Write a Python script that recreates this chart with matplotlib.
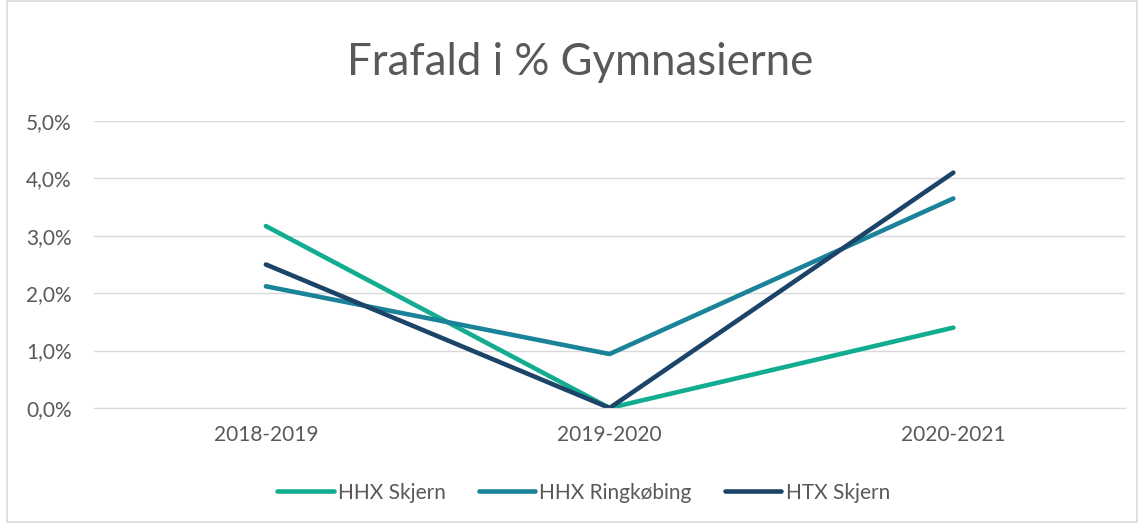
import numpy as np
import matplotlib
matplotlib.use("Agg")
import matplotlib.pyplot as plt
from matplotlib.patches import Rectangle
from matplotlib.ticker import FuncFormatter

plt.rcParams['font.family'] = ['Lato', 'DejaVu Sans']

years = ['2018-2019', '2019-2020', '2020-2021']
hhx_skjern = [3.17, 0.0, 1.40]
hhx_ringkobing = [2.12, 0.94, 3.65]
htx_skjern = [2.50, 0.0, 4.10]

series = [("HHX Skjern", hhx_skjern, "#12AC90"),
          ("HHX Ringkøbing", hhx_ringkobing, "#1A8399"),
          ("HTX Skjern", htx_skjern, "#1B4468")]

txt = "#595959"

fig = plt.figure(figsize=(11.42, 5.24), dpi=100)
fig.patches.append(Rectangle((0.006, 0.004), 0.99, 0.994, transform=fig.transFigure,
                             fill=False, edgecolor="#d9d9d9", linewidth=1.2))
ax = fig.add_axes([0.0823, 0.2214, 0.903, 0.5477])

x = np.arange(len(years))
for name, vals, col in series:
    ax.plot(x, vals, color=col, linewidth=3.3, label=name, solid_capstyle='round')

ax.set_xlim(-0.5, 2.5)
ax.set_ylim(0, 5)
ax.set_yticks(np.arange(0, 5.01, 1))
ax.yaxis.set_major_formatter(FuncFormatter(lambda v, p: f"{v:.1f}%".replace('.', ',')))
ax.set_xticks(x, years)
ax.grid(axis='y', color="#d9d9d9", linewidth=1)
ax.set_axisbelow(True)
for s in ['top', 'right', 'left']:
    ax.spines[s].set_visible(False)
ax.spines['bottom'].set_color("#d9d9d9")
ax.tick_params(axis='both', length=0, colors=txt, labelsize=15)
ax.tick_params(axis='y', pad=16)
ax.tick_params(axis='x', pad=12)
ax.set_clip_on(False)

fig.text(0.508, 0.88, "Frafald i % Gymnasierne", ha='center', va='center',
         fontsize=31.5, color=txt)

leg = fig.legend(loc='center', bbox_to_anchor=(0.511, 0.06), ncol=3, frameon=False,
                 fontsize=15, handlelength=2.7, handletextpad=0.2, columnspacing=1.6)
for t in leg.get_texts():
    t.set_color(txt)

fig.savefig("out.png", dpi=100)
